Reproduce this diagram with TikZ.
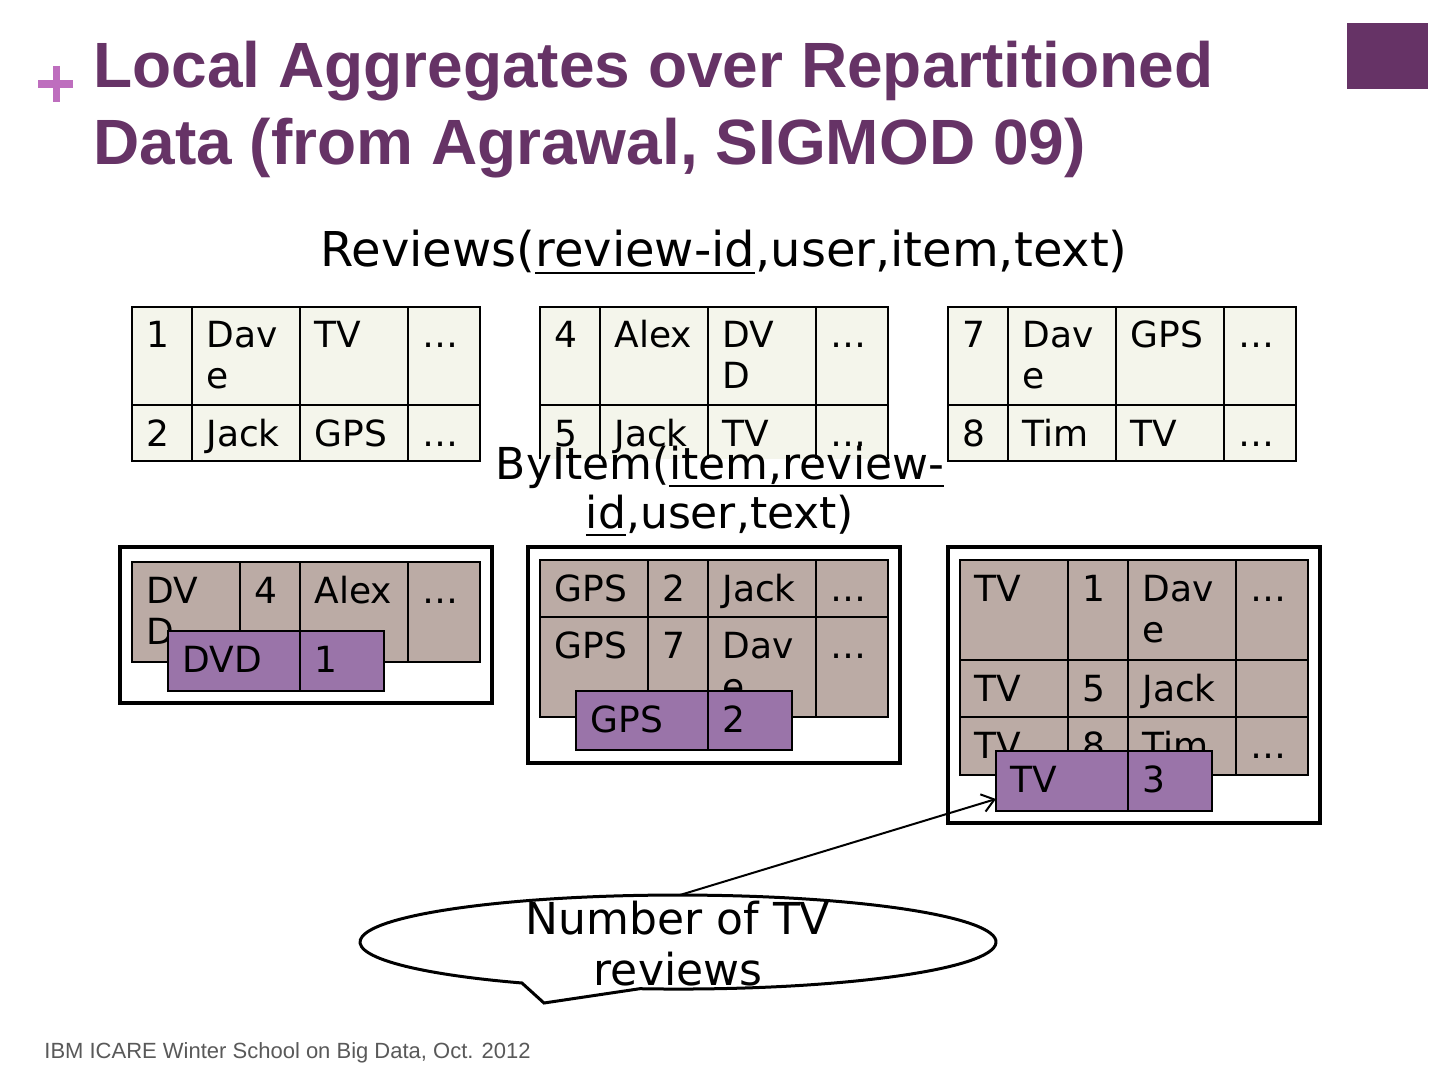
\documentclass[tikz,border=0pt]{standalone}
\usepackage{fontspec}
\setmainfont{DejaVu Sans}
\newfontfamily\titlefont{Liberation Sans}
\usetikzlibrary{arrows.meta}
\definecolor{titlepurple}{HTML}{663366}
\definecolor{pluspurple}{HTML}{BE6EBE}
\definecolor{beige}{HTML}{F4F5EB}
\definecolor{tan}{HTML}{BBABA5}
\definecolor{cellpurple}{HTML}{9A74A9}
\definecolor{footgray}{HTML}{595959}
\newcommand\two[2]{\vtop{\hbox{#1}\hbox{#2}}}
\newcommand\twoc[3]{\vtop{\baselineskip=#1\halign{\hfil##\hfil\cr#2\cr#3\cr}}}
\newcommand\ulx[1]{\setbox0=\hbox{#1}\rlap{\rule[-3.6pt]{\wd0}{1.3pt}}\box0}
\newcommand\tc[7]{%
  \node[cellbox,#6,minimum width=#4*0.5pt,minimum height=#5*0.5pt,anchor=north west] (#1) at (#2,#3) {};
  \node[celltxt] (#1-t) at ([xshift=7pt,yshift=-20.5pt]#1.north west) {#7};
}
\tikzset{
  cellbox/.style={draw=black,line width=0.9pt,inner sep=0pt,outer sep=0pt},
  beigecell/.style={fill=beige},
  tancell/.style={fill=tan},
  purplecell/.style={fill=cellpurple},
  celltxt/.style={anchor=base west,inner sep=0pt,font=\fontsize{18}{20.5}\selectfont},
  outerbox/.style={draw=black,line width=2pt,inner sep=0pt,outer sep=0pt,anchor=north west},
  callout/.style={draw=black,line width=1.5pt,fill=white},
  arrowline/.style={draw=black,line width=1pt,-{Straight Barb[length=6pt,width=9pt]}},
}
\begin{document}
\begin{tikzpicture}[x=0.5pt,y=-0.5pt]
\fill[white] (0,0) rectangle (1440,1080);
\useasboundingbox (0,0) rectangle (1440,1080);
% header decorations
\draw[pluspurple,line width=3.6pt] (38,84) -- (73,84);
\draw[pluspurple,line width=3.6pt] (56.5,66) -- (56.5,102);
\fill[titlepurple] (1347,23) rectangle (1428,89);
\node[anchor=base west,inner sep=0pt,text=titlepurple,font=\titlefont\bfseries\fontsize{32}{38.5}\selectfont] (title) at (93,88)
  {\two{Local Aggregates over Repartitioned}{Data (from Agrawal, SIGMOD 09)}};
% Reviews header
\node[anchor=base,inner sep=0pt,font=\fontsize{24}{28}\selectfont] (reviews) at (724,267)
  {Reviews(\ulx{review-id},user,item,text)};
% top tables
\tc{a11}{132}{307}{60}{98}{beigecell}{1}
\tc{a12}{192}{307}{108}{98}{beigecell}{\two{Dav}{e}}
\tc{a13}{300}{307}{108}{98}{beigecell}{TV}
\tc{a14}{408}{307}{72}{98}{beigecell}{…}
\tc{a21}{132}{405}{60}{56}{beigecell}{2}
\tc{a22}{192}{405}{108}{56}{beigecell}{Jack}
\tc{a23}{300}{405}{108}{56}{beigecell}{GPS}
\tc{a24}{408}{405}{72}{56}{beigecell}{…}
\tc{b11}{540}{307}{60}{98}{beigecell}{4}
\tc{b12}{600}{307}{108}{98}{beigecell}{Alex}
\tc{b13}{708}{307}{108}{98}{beigecell}{\two{DV}{D}}
\tc{b14}{816}{307}{72}{98}{beigecell}{…}
\tc{b21}{540}{405}{60}{56}{beigecell}{5}
\tc{b22}{600}{405}{108}{56}{beigecell}{Jack}
\tc{b23}{708}{405}{108}{56}{beigecell}{TV}
\tc{b24}{816}{405}{72}{56}{beigecell}{…}
\tc{c11}{948}{307}{60}{98}{beigecell}{7}
\tc{c12}{1008}{307}{108}{98}{beigecell}{\two{Dav}{e}}
\tc{c13}{1116}{307}{108}{98}{beigecell}{GPS}
\tc{c14}{1224}{307}{72}{98}{beigecell}{…}
\tc{c21}{948}{405}{60}{56}{beigecell}{8}
\tc{c22}{1008}{405}{108}{56}{beigecell}{Tim}
\tc{c23}{1116}{405}{108}{56}{beigecell}{TV}
\tc{c24}{1224}{405}{72}{56}{beigecell}{…}
% ByItem header
\fill[white] (484,459) rectangle (944,545);
\node[anchor=base,inner sep=0pt,font=\fontsize{22}{24.5}\selectfont] (byitem) at (720,480)
  {\twoc{24.5pt}{ByItem(\ulx{item,review-}}{\ulx{id},user,text)}};
% bottom boxes
\node[outerbox,minimum width=186pt,minimum height=78pt] (boxA) at (120,547) {};
\node[outerbox,minimum width=186pt,minimum height=108pt] (boxB) at (528,547) {};
\node[outerbox,minimum width=186pt,minimum height=138pt] (boxC) at (948,547) {};
% box A
\tc{dA1}{132}{562}{108}{100}{tancell}{\two{DV}{D}}
\tc{dA2}{240}{562}{60}{100}{tancell}{4}
\tc{dA3}{300}{562}{108}{100}{tancell}{Alex}
\tc{dA4}{408}{562}{72}{100}{tancell}{…}
\tc{pA1}{168}{631}{132}{60}{purplecell}{DVD}
\tc{pA2}{300}{631}{84}{60}{purplecell}{1}
% box B
\tc{eB11}{540}{560}{108}{57}{tancell}{GPS}
\tc{eB12}{648}{560}{60}{57}{tancell}{2}
\tc{eB13}{708}{560}{108}{57}{tancell}{Jack}
\tc{eB14}{816}{560}{72}{57}{tancell}{…}
\tc{eB21}{540}{617}{108}{100}{tancell}{GPS}
\tc{eB22}{648}{617}{60}{100}{tancell}{7}
\tc{eB23}{708}{617}{108}{100}{tancell}{\two{Dav}{e}}
\tc{eB24}{816}{617}{72}{100}{tancell}{…}
\tc{pB1}{576}{691}{132}{59}{purplecell}{GPS}
\tc{pB2}{708}{691}{84}{59}{purplecell}{2}
% box C
\tc{fC11}{960}{560}{108}{100}{tancell}{TV}
\tc{fC12}{1068}{560}{60}{100}{tancell}{1}
\tc{fC13}{1128}{560}{108}{100}{tancell}{\two{Dav}{e}}
\tc{fC14}{1236}{560}{72}{100}{tancell}{…}
\tc{fC21}{960}{660}{108}{57}{tancell}{TV}
\tc{fC22}{1068}{660}{60}{57}{tancell}{5}
\tc{fC23}{1128}{660}{108}{57}{tancell}{Jack}
\tc{fC24}{1236}{660}{72}{57}{tancell}{}
\tc{fC31}{960}{717}{108}{58}{tancell}{TV}
\tc{fC32}{1068}{717}{60}{58}{tancell}{8}
\tc{fC33}{1128}{717}{108}{58}{tancell}{Tim}
\tc{fC34}{1236}{717}{72}{58}{tancell}{…}
\tc{pC1}{996}{751}{132}{60}{purplecell}{TV}
\tc{pC2}{1128}{751}{84}{60}{purplecell}{3}
% callout
\draw[callout] (639.8,988.7) arc[start angle=96.9, end angle=-240.6, x radius=318, y radius=47] -- (544,1003) -- cycle;
\coordinate (cstart) at (680,895);
\node[anchor=base,inner sep=0pt,font=\fontsize{22}{25.5}\selectfont] (callouttext) at (678,934)
  {\twoc{25.5pt}{Number of TV}{reviews}};
\draw[arrowline] (cstart) -- ([yshift=6pt]pC1.south west);
% footer
\node[anchor=base west,inner sep=0pt,text=footgray,font=\titlefont\fontsize{11}{13}\selectfont] (footer) at (44,1058)
  {IBM ICARE Winter School on Big Data, Oct. 2012};
\end{tikzpicture}
\end{document}
